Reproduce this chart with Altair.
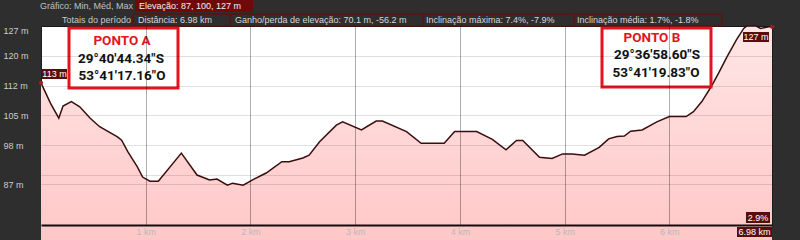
import altair as alt
import pandas as pd

# ---------------- data ----------------
dist_km = [0.00, 0.09, 0.17, 0.21, 0.29, 0.37, 0.47, 0.56, 0.73, 0.77,
           0.83, 0.92, 0.97, 1.04, 1.12, 1.34, 1.49, 1.61, 1.68, 1.78,
           1.83, 1.93, 2.02, 2.15, 2.30, 2.37, 2.50, 2.56, 2.66, 2.82,
           2.88, 3.06, 3.20, 3.26, 3.49, 3.63, 3.85, 3.95, 4.16, 4.31,
           4.44, 4.54, 4.60, 4.76, 4.88, 4.98, 5.07, 5.19, 5.33, 5.42,
           5.50, 5.57, 5.63, 5.74, 5.88, 6.00, 6.16, 6.23, 6.31, 6.40,
           6.47, 6.55, 6.64, 6.71, 6.74, 6.83, 6.87, 6.95, 6.98]
elev_m = [113.0, 108.0, 104.3, 107.3, 108.4, 107.1, 104.3, 102.2, 99.7, 98.9,
          96.0, 92.3, 89.8, 88.8, 88.8, 95.7, 90.3, 89.1, 89.3, 87.8,
          88.3, 87.8, 89.1, 90.8, 93.6, 93.6, 94.5, 95.2, 98.5, 102.6,
          103.4, 101.4, 103.6, 103.6, 101.0, 98.1, 98.1, 101.0, 101.0, 99.1,
          96.5, 98.8, 98.8, 94.7, 94.4, 95.5, 95.5, 95.2, 97.1, 99.2,
          99.8, 99.9, 101.1, 101.4, 103.4, 104.7, 104.7, 105.9, 108.4, 112.1,
          115.4, 119.4, 123.6, 126.4, 127.0, 127.0, 126.4, 126.8, 126.8]

y_tick_values = [127, 119.67, 112.33, 105, 97.67, 90.33, 88]
y_tick_labels = ["127 m", "120 m", "112 m", "105 m", "98 m", "", "87 m"]
x_tick_values = [1, 2, 3, 4, 5, 6]
x_tick_labels = ["1 km", "2 km", "3 km", "4 km", "5 km", "6 km"]

header_row1 = ["Gráfico: Min, Méd, Max", "Elevação: 87, 100, 127 m"]
header_row2 = ["Totais do período", "Distância: 6.98 km",
               "Ganho/perda de elevação: 70.1 m, -56.2 m",
               "Inclinação máxima: 7.4%, -7.9%",
               "Inclinação média: 1.7%, -1.8%"]
point_a = ["PONTO A", "29°40'44.34\"S", "53°41'17.16\"O"]
point_b = ["PONTO B", "29°36'58.60\"S", "53°41'19.83\"O"]
flag_labels = ["113 m", "127 m", "2.9%", "6.98 km"]

df = pd.DataFrame({"km": dist_km, "m": elev_m})
ends = df.iloc[[0, len(df) - 1]]
one = pd.DataFrame({"k": [0]})

W, H = 731, 199
FONT = "Liberation Sans"


def label_expr(values, labels):
    expr = "''"
    for v, t in reversed(list(zip(values, labels))):
        expr = f"abs(datum.value - {v}) < 0.01 ? '{t}' : ({expr})"
    return expr


x_scale = alt.Scale(domain=[0, 6.98], nice=False, zero=False)
y_scale = alt.Scale(domain=[78, 127], nice=False, zero=False)

x_axis = alt.Axis(values=x_tick_values, labelExpr=label_expr(x_tick_values, x_tick_labels),
                  title=None, grid=True, gridColor="#000000", gridOpacity=0.32, ticks=False,
                  labelColor="#b8b8b8", labelFontSize=9, labelFont=FONT,
                  labelPadding=2, labelFlush=False, labelOverlap=False,
                  domainColor="#0e0e0e", domainWidth=2, zindex=1)
y_axis = alt.Axis(values=y_tick_values, labelExpr=label_expr(y_tick_values, y_tick_labels),
                  title=None, grid=True, gridColor="#000000", gridOpacity=0.12, ticks=False,
                  domain=False, labelAlign="left", labelPadding=38,
                  labelColor="#cccccc", labelFontSize=9, labelFont=FONT,
                  labelOverlap=False, labelFlush=False, labelBound=False,
                  labelBaseline={"condition": {"test": "datum.value >= 127", "value": "top"},
                                 "value": "middle"},
                  zindex=1)

X = alt.X("km:Q", scale=x_scale, axis=x_axis)
Y = alt.Y("m:Q", scale=y_scale, axis=y_axis)

area = alt.Chart(df).mark_area(
    interpolate="linear", opacity=1, fillOpacity=1,
    color=alt.Gradient(gradient="linear",
                       stops=[alt.GradientStop(color="#ffe6e6", offset=0),
                              alt.GradientStop(color="#ffc8c8", offset=0.4),
                              alt.GradientStop(color="#ffacac", offset=1)],
                       x1=0, x2=0, y1=0, y2=1),
).encode(x=X, y=Y, y2=alt.value(H))

line = alt.Chart(df).mark_line(color="#3b0d0d", strokeWidth=1.5).encode(x=X, y=Y)

dots = alt.Chart(ends).mark_point(filled=True, size=18, color="#a02020", opacity=1).encode(x=X, y=Y)


def rect(x1, x2, y1, y2, **kw):
    return alt.Chart(one).mark_rect(**kw).encode(
        x=alt.value(x1), x2=alt.value(x2), y=alt.value(y1), y2=alt.value(y2))


def text(t, x, y, **kw):
    kw.setdefault("font", FONT)
    kw.setdefault("fontSize", 9)
    kw.setdefault("baseline", "middle")
    return alt.Chart(one).mark_text(text=t, **kw).encode(x=alt.value(x), y=alt.value(y))


def vrule(x, y1, y2, **kw):
    return alt.Chart(one).mark_rule(**kw).encode(x=alt.value(x), y=alt.value(y1), y2=alt.value(y2))


layers = [area, line, dots]

# header
layers += [
    text(header_row1[0], 92, -20, align="right", color="#c0c0c0"),
    rect(94, 212, -26, -14, color="#700a0a"),
    text(header_row1[1], 98, -20, align="left", color="#f2f2f2"),
    rect(92, 681, -12, 0, fillOpacity=0, stroke="#5e1212", strokeWidth=1.5),
    vrule(189, -12, 0, color="#5e1212", strokeWidth=1.5),
    vrule(382, -12, 0, color="#5e1212", strokeWidth=1.5),
    vrule(533, -12, 0, color="#5e1212", strokeWidth=1.5),
    text(header_row2[0], 90, -6, align="right", color="#c8c8c8"),
    text(header_row2[1], 97, -6, align="left", color="#d8d8d8"),
    text(header_row2[2], 194, -6, align="left", color="#d8d8d8"),
    text(header_row2[3], 385, -6, align="left", color="#d8d8d8"),
    text(header_row2[4], 536, -6, align="left", color="#d8d8d8"),
]

# point annotations
BIG = dict(font="Roboto", fontSize=13.5, fontWeight="bold", align="center")
layers += [
    rect(28, 137, 2, 62, fill="#ffffff", stroke="#e3141e", strokeWidth=3),
    text(point_a[0], 81, 15, color="#e3141e", **BIG),
    text(point_a[1], 80, 33, color="#111111", **BIG),
    text(point_a[2], 81, 50, color="#111111", **BIG),
    rect(561, 670, 2, 61, fill="#ffffff", stroke="#e3141e", strokeWidth=3),
    text(point_b[0], 611, 12, color="#e3141e", **BIG),
    text(point_b[1], 616, 29, color="#111111", **BIG),
    text(point_b[2], 615, 47, color="#111111", **BIG),
]

# flag labels
FLAG = "#5a0d0d"
layers += [
    rect(1, 26, 43, 53, color=FLAG),
    text(flag_labels[0], 13.5, 48, align="center", color="#ffffff"),
    rect(702, 728, 6, 16, color=FLAG),
    text(flag_labels[1], 715, 11, align="center", color="#ffffff"),
    rect(705, 729, 186, 197, color=FLAG),
    text(flag_labels[2], 717, 191.5, align="center", color="#ffffff"),
    rect(696, 731, 201, 211, color=FLAG),
    text(flag_labels[3], 713.5, 206, align="center", color="#ffffff"),
]

chart = alt.layer(*layers).properties(
    width=W, height=H,
    autosize=alt.AutoSizeParams(type="none"),
    padding={"left": 41, "top": 26, "right": 28, "bottom": 15},
).configure(background="#2e2e2e").configure_view(fill="#ffffff", stroke="#1c1c1c")

chart.save("out.html", embed_options={"renderer": "svg", "actions": False})
